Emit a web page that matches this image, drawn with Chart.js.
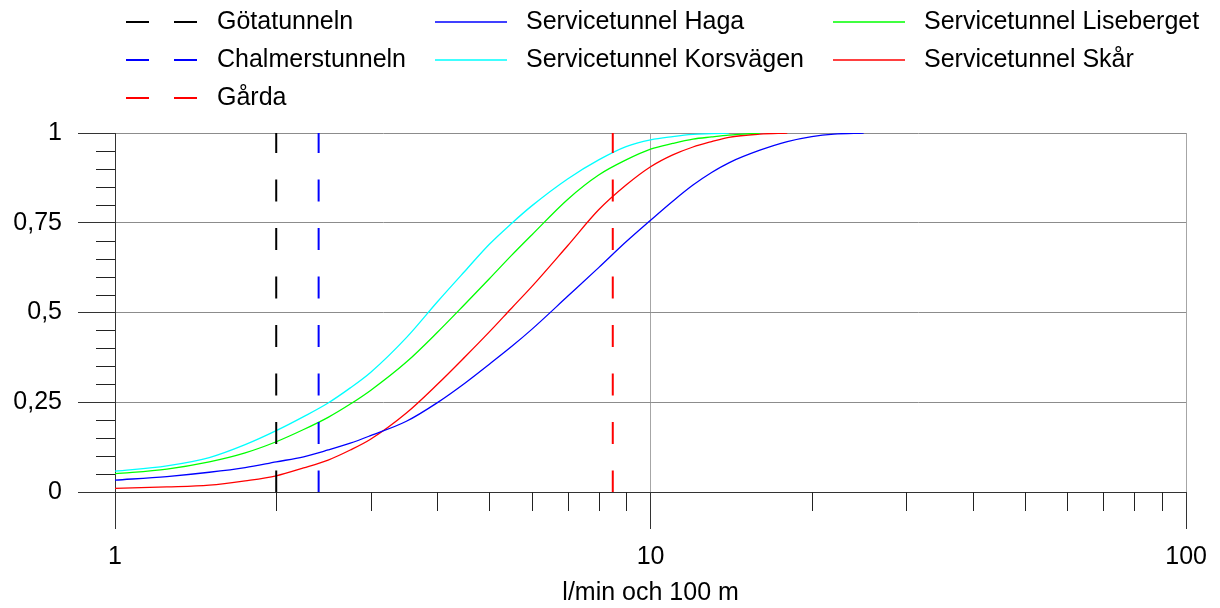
<!DOCTYPE html>
<html>
<head>
<meta charset="utf-8">
<script src="https://cdn.jsdelivr.net/npm/chart.js@4.4.0/dist/chart.umd.min.js"></script>
<style>
  html, body { margin: 0; padding: 0; background: #fff; }
  canvas { display: block; }
</style>
</head>
<body>
<canvas id="chart" width="1220" height="608"></canvas>
<script>
const xValues = [1, 1.25, 1.5, 1.75, 2, 2.25, 2.5, 2.75, 3, 3.5, 4, 4.5, 5, 5.5, 6, 7, 8, 9, 10, 11, 12, 13, 14, 16, 18, 20, 22, 25];

// cumulative share per service tunnel
const hagaValues = [0.033, 0.043, 0.055, 0.068, 0.084, 0.098, 0.117, 0.136, 0.157, 0.197, 0.249, 0.303, 0.356, 0.405, 0.453, 0.545, 0.625, 0.697, 0.757, 0.810, 0.855, 0.890, 0.917, 0.952, 0.976, 0.990, 0.997, 1.0];
const korsvagenValues = [0.058, 0.073, 0.096, 0.132, 0.171, 0.210, 0.248, 0.290, 0.333, 0.430, 0.530, 0.615, 0.690, 0.748, 0.797, 0.872, 0.925, 0.962, 0.981, 0.990, 0.996, 0.998, 1.0, null, null, null, null, null];
const lisebergetValues = [0.051, 0.064, 0.084, 0.109, 0.140, 0.174, 0.208, 0.245, 0.283, 0.362, 0.445, 0.523, 0.594, 0.659, 0.716, 0.815, 0.883, 0.925, 0.955, 0.971, 0.983, 0.989, 0.994, 1.0, null, null, null, null];
const skarValues = [0.010, 0.014, 0.019, 0.031, 0.045, 0.067, 0.089, 0.117, 0.147, 0.220, 0.300, 0.376, 0.446, 0.512, 0.572, 0.686, 0.786, 0.855, 0.906, 0.939, 0.961, 0.976, 0.988, 0.997, 1.0, null, null, null];

const curveNames = ['Servicetunnel Haga', 'Servicetunnel Korsvägen', 'Servicetunnel Liseberget', 'Servicetunnel Skår'];
const curveColors = ['#0000ff', '#00ffff', '#00ff00', '#ff0000'];

// dashed reference lines
const markerNames = ['Götatunneln', 'Chalmerstunneln', 'Gårda'];
const markerPositions = [2, 2.4, 8.5];
const markerColors = ['#000000', '#0000ff', '#ff0000'];

// axis ticks
const yTickValues = [0, 0.25, 0.5, 0.75, 1];
const yTickLabels = ['0', '0,25', '0,5', '0,75', '1'];
const yMinorTicks = [0.05, 0.1, 0.15, 0.2, 0.3, 0.35, 0.4, 0.45, 0.55, 0.6, 0.65, 0.7, 0.8, 0.85, 0.9, 0.95];
const xTickValues = [1, 10, 100];
const xTickLabels = ['1', '10', '100'];
const xMinorTicks = [2, 3, 4, 5, 6, 7, 8, 9, 20, 30, 40, 50, 60, 70, 80, 90];
const xTitle = 'l/min och 100 m';

const FONT = "'Liberation Sans', Arial, sans-serif";

function toPoints(values) {
    return xValues.map((x, i) => ({ x: x, y: values[i] }));
}

const datasets = [];
markerNames.forEach((name, i) => {
    datasets.push({
        label: name,
        data: [{ x: markerPositions[i], y: 1 }, { x: markerPositions[i], y: 0 }],
        borderColor: markerColors[i],
        borderWidth: 2,
        borderDash: [22, 26.5],
        borderDashOffset: 2,
        pointRadius: 0
    });
});
const curveData = [hagaValues, korsvagenValues, lisebergetValues, skarValues];
curveNames.forEach((name, i) => {
    datasets.push({
        label: name,
        data: toPoints(curveData[i]),
        borderColor: curveColors[i],
        borderWidth: 1.3,
        pointRadius: 0,
        cubicInterpolationMode: 'monotone',
        spanGaps: false
    });
});

// legend positions: three columns like the original
const legendSlots = [
    { x: 126, y: 22 }, { x: 126, y: 60 }, { x: 126, y: 98 },
    { x: 435, y: 22 }, { x: 435, y: 60 },
    { x: 833, y: 22 }, { x: 833, y: 60 }
];

const legendPlugin = {
    id: 'customLegend',
    afterDraw(chart) {
        const ctx = chart.ctx;
        ctx.save();
        chart.data.datasets.forEach((ds, i) => {
            const slot = legendSlots[i];
            ctx.beginPath();
            ctx.strokeStyle = ds.borderColor;
            ctx.lineWidth = ds.borderDash ? 2 : 1.3;
            ctx.setLineDash(ds.borderDash ? [23, 25] : []);
            ctx.moveTo(slot.x, slot.y);
            ctx.lineTo(slot.x + 72, slot.y);
            ctx.stroke();
            ctx.setLineDash([]);
            ctx.fillStyle = '#000';
            ctx.font = '25px ' + FONT;
            ctx.textBaseline = 'middle';
            ctx.textAlign = 'left';
            ctx.fillText(ds.label, slot.x + 91, slot.y);
        });
        ctx.restore();
    }
};

const minorTicksPlugin = {
    id: 'minorTicks',
    afterDraw(chart) {
        const ctx = chart.ctx;
        const xs = chart.scales.x;
        const ys = chart.scales.y;
        const area = chart.chartArea;
        ctx.save();
        ctx.strokeStyle = '#222';
        ctx.lineWidth = 1;
        ctx.beginPath();
        xMinorTicks.forEach(v => {
            const px = Math.round(xs.getPixelForValue(v)) + 0.5;
            ctx.moveTo(px, area.bottom);
            ctx.lineTo(px, area.bottom + 19);
        });
        yMinorTicks.forEach(v => {
            const py = Math.round(ys.getPixelForValue(v)) + 0.5;
            ctx.moveTo(area.left - 19, py);
            ctx.lineTo(area.left, py);
        });
        ctx.stroke();
        ctx.restore();
    }
};

new Chart(document.getElementById('chart'), {
    type: 'line',
    data: { datasets: datasets },
    options: {
        responsive: false,
        animation: false,
        devicePixelRatio: 1,
        layout: { padding: { top: 133, right: 32, left: 0, bottom: 0 } },
        plugins: {
            legend: { display: false },
            tooltip: { enabled: false }
        },
        scales: {
            x: {
                type: 'logarithmic',
                min: 1,
                max: 100,
                afterBuildTicks: scale => { scale.ticks = xTickValues.map(v => ({ value: v })); },
                afterFit: scale => { scale.height = 116; },
                ticks: {
                    autoSkip: false,
                    maxRotation: 0,
                    padding: 13,
                    color: '#000',
                    font: { family: FONT, size: 25 },
                    callback: v => xTickLabels[xTickValues.indexOf(v)]
                },
                grid: { color: '#a6a6a6', tickColor: '#333', tickLength: 37 },
                border: { color: '#333' },
                title: {
                    display: true,
                    text: xTitle,
                    color: '#000',
                    font: { family: FONT, size: 25 },
                    padding: { top: 0, bottom: 0 }
                }
            },
            y: {
                min: 0,
                max: 1,
                afterBuildTicks: scale => { scale.ticks = yTickValues.map(v => ({ value: v })); },
                afterFit: scale => { scale.width = 115; },
                ticks: {
                    padding: 16,
                    color: '#000',
                    font: { family: FONT, size: 25 },
                    callback: v => yTickLabels[yTickValues.indexOf(v)]
                },
                grid: { color: '#8c8c8c', tickColor: '#333', tickLength: 37 },
                border: { color: '#333' }
            }
        }
    },
    plugins: [legendPlugin, minorTicksPlugin]
});
</script>
</body>
</html>
